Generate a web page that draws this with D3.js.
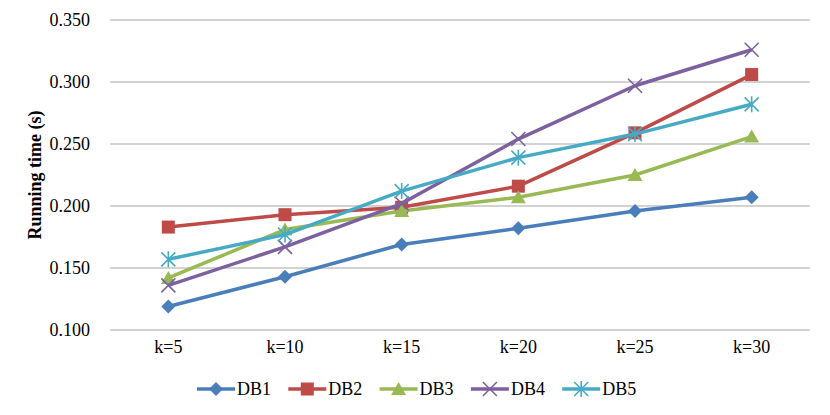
<!DOCTYPE html>
<html>
<head>
<meta charset="utf-8">
<script src="https://cdn.jsdelivr.net/npm/d3@7"></script>
<style>
  body { margin: 0; background: #fff; }
  svg text { font-family: 'Liberation Serif', 'Times New Roman', Times, serif !important; fill: #000; }
</style>
</head>
<body>
<script>
// Size of the svg
var w = 830;
var h = 415;

// Categories along the x axis
var categories = ["k=5", "k=10", "k=15", "k=20", "k=25", "k=30"];

// Running times, one array per database
var db1 = [0.119, 0.143, 0.169, 0.182, 0.196, 0.207];
var db2 = [0.183, 0.193, 0.199, 0.216, 0.259, 0.306];
var db3 = [0.142, 0.181, 0.196, 0.207, 0.225, 0.256];
var db4 = [0.136, 0.167, 0.202, 0.254, 0.297, 0.326];
var db5 = [0.157, 0.177, 0.212, 0.239, 0.258, 0.282];

var seriesNames = ["DB1", "DB2", "DB3", "DB4", "DB5"];
var seriesValues = [db1, db2, db3, db4, db5];
var yTicks = [0.100, 0.150, 0.200, 0.250, 0.300, 0.350];

var colors = ["#4A7EBB", "#BE4B48", "#98B954", "#7D60A0", "#46AAC5"];
var markers = ["diamond", "square", "triangle", "cross", "star"];

var margin = {top: 20, right: 20, bottom: 85, left: 110};
var serif = "'Liberation Serif', 'Times New Roman', serif";

var svg = d3.select("body")
    .append("svg")
    .attr("width", w)
    .attr("height", h);

var x = d3.scaleBand()
    .domain(categories)
    .range([margin.left, w - margin.right]);

var y = d3.scaleLinear()
    .domain([0.1, 0.35])
    .range([h - margin.bottom, margin.top]);

// Horizontal gridlines
svg.append("g")
    .selectAll("line")
    .data(yTicks)
    .enter()
    .append("line")
    .attr("x1", margin.left)
    .attr("x2", w - margin.right)
    .attr("y1", function(d) { return y(d); })
    .attr("y2", function(d) { return y(d); })
    .attr("stroke", "#A6A6A6")
    .attr("stroke-width", 1.2);

// Y axis labels
var yAxis = d3.axisLeft(y)
    .tickValues(yTicks)
    .tickFormat(d3.format(".3f"))
    .tickSize(0)
    .tickPadding(20);

svg.append("g")
    .attr("transform", "translate(" + margin.left + ",0)")
    .call(yAxis)
    .attr("font-family", serif)
    .call(function(g) { g.select(".domain").remove(); })
    .selectAll("text")
    .style("font-size", "18px")
    .style("font-family", serif);

// X axis labels
var xAxis = d3.axisBottom(x)
    .tickSize(0)
    .tickPadding(10);

svg.append("g")
    .attr("transform", "translate(0," + (h - margin.bottom) + ")")
    .call(xAxis)
    .attr("font-family", serif)
    .call(function(g) { g.select(".domain").remove(); })
    .selectAll("text")
    .style("font-size", "18px")
    .style("font-family", serif);

// Y axis title
svg.append("text")
    .attr("transform", "translate(41," + ((margin.top + h - margin.bottom) / 2) + ") rotate(-90)")
    .attr("text-anchor", "middle")
    .style("font-size", "18px")
    .style("font-family", serif)
    .attr("font-weight", "bold")
    .text("Running time (s)");

// Draws one marker at 0,0 inside group g
function drawMarker(g, type, color) {
    if (type == "diamond") {
        g.append("path").attr("d", "M0,-7L7,0L0,7L-7,0Z").attr("fill", color);
    } else if (type == "square") {
        g.append("rect").attr("x", -6.5).attr("y", -6.5).attr("width", 13).attr("height", 13).attr("fill", color);
    } else if (type == "triangle") {
        g.append("path").attr("d", "M0,-7L7.5,6L-7.5,6Z").attr("fill", color);
    } else if (type == "cross") {
        g.append("path").attr("d", "M-7,-7L7,7M-7,7L7,-7")
            .attr("stroke", color).attr("stroke-width", 1.6).attr("fill", "none");
    } else {
        g.append("path").attr("d", "M-7,-7L7,7M-7,7L7,-7M0,-8L0,8")
            .attr("stroke", color).attr("stroke-width", 1.6).attr("fill", "none");
    }
}

var line = d3.line()
    .x(function(d, i) { return x(categories[i]) + x.bandwidth() / 2; })
    .y(function(d) { return y(d); });

seriesValues.forEach(function(values, s) {
    svg.append("path")
        .datum(values)
        .attr("d", line)
        .attr("fill", "none")
        .attr("stroke", colors[s])
        .attr("stroke-width", 3.5)
        .attr("stroke-linejoin", "round");

    svg.append("g")
        .selectAll("g")
        .data(values)
        .enter()
        .append("g")
        .attr("transform", function(d, i) {
            return "translate(" + (x(categories[i]) + x.bandwidth() / 2) + "," + y(d) + ")";
        })
        .each(function() { drawMarker(d3.select(this), markers[s], colors[s]); });
});

// Legend along the bottom
var legend = svg.append("g")
    .selectAll("g")
    .data(seriesNames)
    .enter()
    .append("g")
    .attr("transform", function(d, i) { return "translate(" + (197 + i * 91.3) + ",389)"; });

legend.append("line")
    .attr("x1", 0)
    .attr("x2", 38)
    .attr("stroke", function(d, i) { return colors[i]; })
    .attr("stroke-width", 3.5);

legend.each(function(d, i) {
    var g = d3.select(this).append("g").attr("transform", "translate(19,0)");
    drawMarker(g, markers[i], colors[i]);
});

legend.append("text")
    .attr("x", 40)
    .attr("dy", "0.35em")
    .style("font-size", "18px")
    .style("font-family", serif)
    .text(function(d) { return d; });
</script>
</body>
</html>
